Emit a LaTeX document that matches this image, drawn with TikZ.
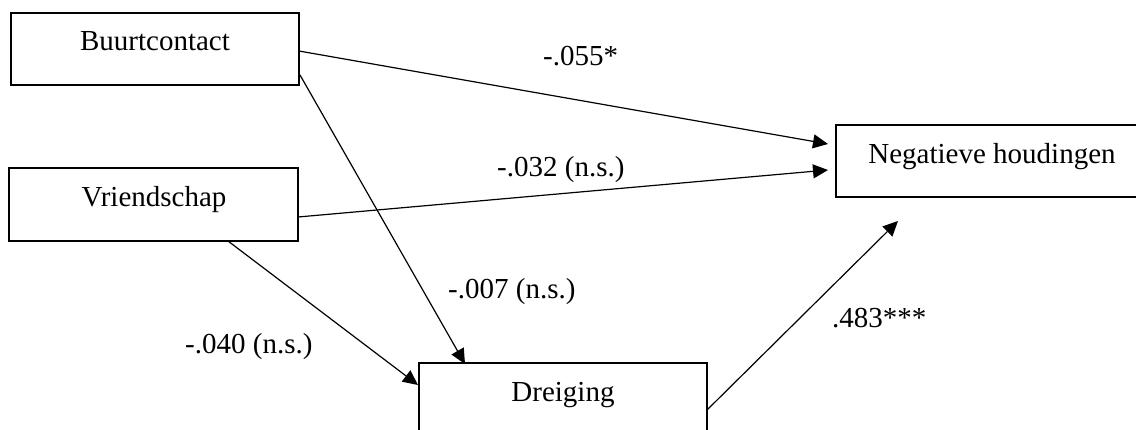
\documentclass[tikz,border=0pt]{standalone}
\usepackage{fontspec}
\setmainfont{Liberation Serif}
\usetikzlibrary{arrows.meta}
\begin{document}
\begin{tikzpicture}[x=1pt,y=-1pt,
  varbox/.style={draw=black, line width=1.8pt, rectangle, inner sep=0pt, fill=white},
  vartext/.style={anchor=base, inner sep=0pt, font=\fontsize{29}{35}\selectfont},
  coef/.style={anchor=base west, inner sep=0pt, font=\fontsize{29}{35}\selectfont},
  path/.style={line width=1.2pt, -{Triangle[length=15pt,width=14pt]}}]
\useasboundingbox (0,0) rectangle (1136,429);
\fill[white] (0,0) rectangle (1136,429);
% boxes
\node[varbox, minimum width=288pt, minimum height=72pt] (buurt) at (155,49) {};
\node[varbox, minimum width=289pt, minimum height=73pt] (vriend) at (153.5,204.5) {};
\node[varbox, minimum width=312pt, minimum height=72pt] (neg) at (992,161) {};
\node[varbox, minimum width=288pt, minimum height=72pt] (dreig) at (563,399) {};
% box texts
\node[vartext] (tbuurt) at (155,50) {Buurtcontact};
\node[vartext] (tvriend) at (154,206) {Vriendschap};
\node[vartext] (tneg) at (992,163) {Negatieve houdingen};
\node[vartext] (tdreig) at (563,401) {Dreiging};
% connector end points
\coordinate (b1) at (299,51);
\coordinate (b2) at (300,75);
\coordinate (v1) at (298,217);
\coordinate (v2) at (228,241);
\coordinate (d1) at (707,410);
\coordinate (n1) at (828,144);
\coordinate (n2) at (828,170);
\coordinate (n3) at (898,221);
\coordinate (dd1) at (465,364);
\coordinate (dd2) at (418,385);
% connectors
\draw[path] (b1) -- (n1);
\draw[path] (b2) -- (dd1);
\draw[path] (v1) -- (n2);
\draw[path] (v2) -- (dd2);
\draw[path] (d1) -- (n3);
% coefficients
\node[coef] (c1) at (543,65) {-.055*};
\node[coef] (c2) at (497,176) {-.032 (n.s.)};
\node[coef] (c3) at (448,298) {-.007 (n.s.)};
\node[coef] (c4) at (185,353) {-.040 (n.s.)};
\node[coef] (c5) at (832,327) {.483***};
\end{tikzpicture}
\end{document}
